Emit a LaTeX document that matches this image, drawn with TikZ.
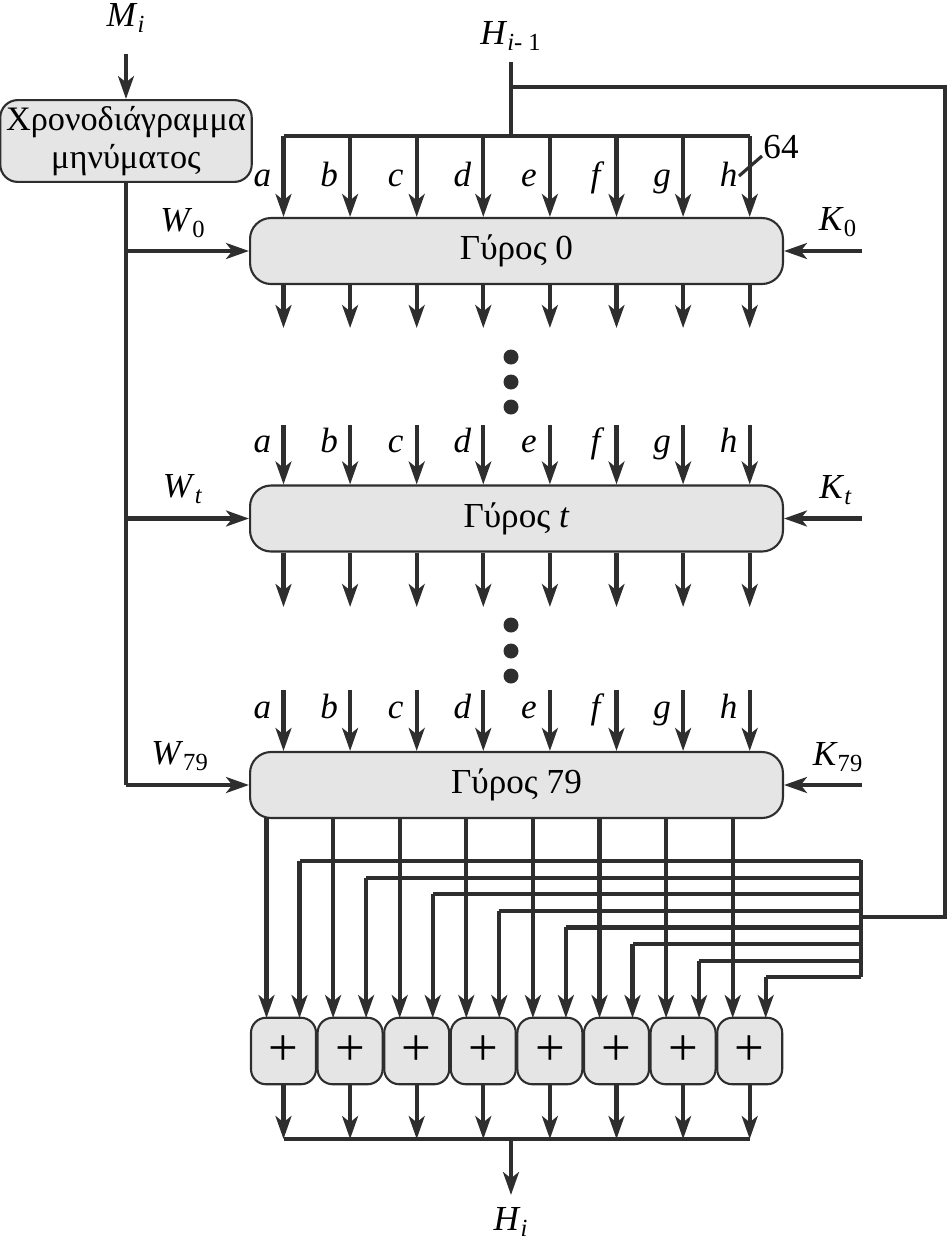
\documentclass[tikz,border=0pt]{standalone}
\usepackage{fontspec}
\setmainfont{Liberation Serif}
\usetikzlibrary{arrows.meta}

\newcommand{\sub}[2]{\textit{#1}\textsubscript{#2}}

\begin{document}
\begin{tikzpicture}[x=0.02cm, y=-0.02cm, font=\fontsize{20}{22}\selectfont,
    wire/.style={line width=2.4pt, draw=black!82},
    arr/.style={wire, -{Stealth[length=13pt, width=9pt, inset=3.5pt]}},
    box/.style={draw=black!82, line width=1.2pt, fill=black!10},
    roundbox/.style={box, rounded corners=0.42cm, minimum width=10.66cm, minimum height=1.32cm},
    addbox/.style={box, rounded corners=0.3cm, minimum width=1.3cm, minimum height=1.33cm, inner sep=0pt,
        font=\fontsize{30}{30}\selectfont},
    lab/.style={anchor=base, font=\fontsize{20}{22}\selectfont\itshape}]

    \useasboundingbox (0,0) rectangle (948,1245);

    % Message schedule
    \node[box, rounded corners=0.35cm, minimum width=4.96cm, minimum height=1.62cm, align=center,
        font=\fontsize{19.5}{22}\selectfont] (sched) at (126,141)
        {Χρονοδιάγραμμα\\μηνύματος};
    \node (Mi) at (126,18) {\sub{M}{\textit{i}}};
    \draw[arr, shorten <=9pt] (Mi) -- (sched);

    % Rounds
    \node[roundbox] (r0) at (516.5,251) {Γύρος 0};
    \node[roundbox] (rt) at (516.5,518.5) {Γύρος \textit{t}};
    \node[roundbox] (r79) at (516.5,785) {Γύρος 79};

    % W inputs
    \coordinate (wtop) at (sched.south);
    \coordinate (wbot) at (126,785);
    \draw[wire] (wtop) -- (wbot);
    \draw[arr] (wtop |- r0.west) -- (r0.west);
    \draw[arr] (wtop |- rt.west) -- (rt.west);
    \draw[arr] (wbot) -- (r79.west);
    \node (w0) at (183,223) {\sub{W}{0}};
    \node (wt) at (183,489) {\sub{W}{\textit{t}}};
    \node (w79) at (180,756) {\sub{W}{79}};

    % K inputs
    \coordinate (kin) at (862,0);
    \draw[arr] (kin |- r0.east) -- (r0.east);
    \draw[arr] (kin |- rt.east) -- (rt.east);
    \draw[arr] (kin |- r79.east) -- (r79.east);
    \node (k0) at (838,222) {\sub{K}{0}};
    \node (kt) at (836,490) {\sub{K}{\textit{t}}};
    \node (k79) at (838,757) {\sub{K}{79}};

    % H_{i-1} and feedback
    \node (Hin) at (511,36) {\sub{H}{\textit{i}- 1}};
    \coordinate (hsplit) at (511,87);
    \coordinate (hbus) at (511,136);
    \coordinate (fbr) at (861,917);
    \draw[wire] (511,62) -- (hbus);
    \draw[wire] (hsplit) -- (945,87) -- (945,917) -- (fbr);

    % columns
    \foreach \l [count=\k] in {a,b,c,d,e,f,g,h} {
        \pgfmathsetmacro\cx{283.5+66.6*(\k-1)}
        \coordinate (c\k) at (\cx,0);
        % round 0
        \draw[arr] (c\k |- hbus) -- (c\k |- r0.north);
        \node[lab] at (\cx-21,186) {\l};
        \draw[arr] (c\k |- r0.south) -- (\cx,328);
        % round t
        \draw[arr] (\cx,425) -- (c\k |- rt.north);
        \node[lab] at (\cx-21,452) {\l};
        \draw[arr] (c\k |- rt.south) -- (\cx,607);
        % round 79
        \draw[arr] (\cx,690) -- (c\k |- r79.north);
        \node[lab] at (\cx-21,718) {\l};
        % adders
        \node[addbox] (p\k) at (\cx,1051) {+};
        \draw[arr] (\cx-17,818) -- (\cx-17,1018);
        \pgfmathsetmacro\fy{861+16.6*(\k-1)}
        \draw[wire] (861,\fy) -- (\cx+16,\fy);
        \draw[arr] (\cx+16,\fy) -- (\cx+16,1018);
        \draw[arr] (p\k) -- (\cx,1139);
    }

    % top bus and bit width
    \draw[wire, line width=2.8pt] (c1 |- hbus) -- (c8 |- hbus);
    \draw[line width=1.8pt, draw=black!82] (739,176) -- (762,156);
    \node (n64) at (781,147) {64};

    % right feedback bus
    \draw[wire] (861,859.8) -- (861,977.4);

    % dots
    \foreach \dy in {357,382,407,625,651,676}
        \fill[black!82] (511,\dy) circle (7.5);

    % output
    \coordinate (obus) at (511,1139);
    \draw[wire, line width=2.8pt] (c1 |- obus) -- (c8 |- obus);
    \node (Hout) at (511,1222) {\sub{H}{\textit{i}}};
    \draw[arr] (obus) -- (511,1195);

\end{tikzpicture}
\end{document}
